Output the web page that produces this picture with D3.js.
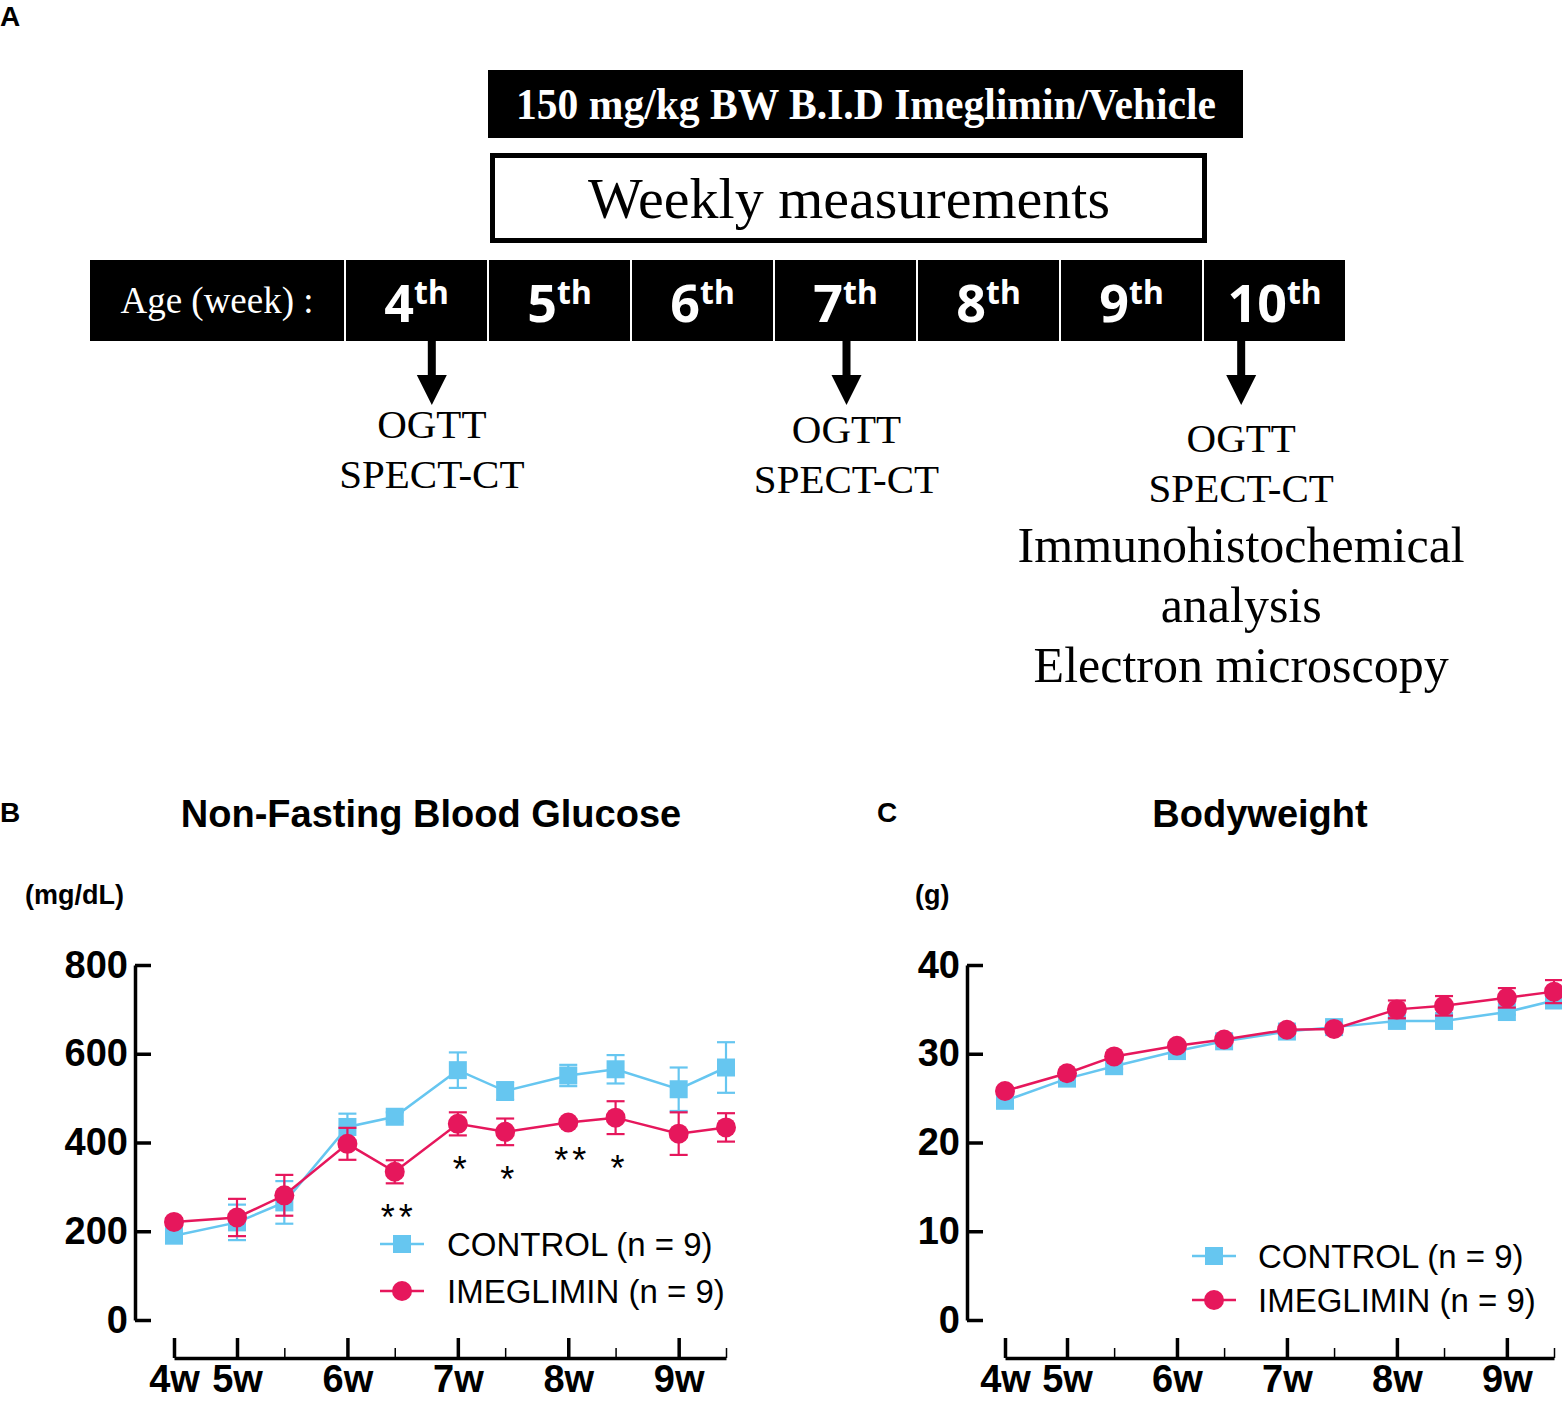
<!DOCTYPE html>
<html>
<head>
<meta charset="utf-8">
<script src="https://cdn.jsdelivr.net/npm/d3@7"></script>
<style>
  body { margin: 0; background: #fff; }
  svg { display: block; }
</style>
</head>
<body>
<svg id="fig" width="1562" height="1401"></svg>
<script>
// ---------- data ----------
// panel A: study timeline
const ageWeeks = [4, 5, 6, 7, 8, 9, 10];
const eventAges = [4.6, 7.5, 10.26];          // when the OGTT / imaging happened (week + fraction)
const eventLines = [
  ["OGTT", "SPECT-CT"],
  ["OGTT", "SPECT-CT"],
  ["OGTT", "SPECT-CT", "Immunohistochemical", "analysis", "Electron microscopy"]
];

// panels B and C: measurement days (age in days)
const days = [28, 35, 38, 42, 45, 49, 52, 56, 59, 63, 66];
const majorDays = [28, 35, 42, 49, 56, 63];
const minorDays = [38, 45, 52, 59, 66];
const weekLabels = ["4w", "5w", "6w", "7w", "8w", "9w"];

const glucoseControl    = [190, 220, 265, 435, 458, 563, 516, 551, 565, 520, 569];
const glucoseControlSem = [8, 40, 48, 30, 10, 40, 20, 24, 32, 49, 57];
const glucoseImeg       = [221, 231, 281, 397, 334, 442, 424, 445, 456, 420, 434];
const glucoseImegSem    = [8, 42, 46, 36, 26, 26, 30, 8, 37, 48, 32];
const glucoseStars      = [null, null, null, null, "**", "*", "*", "**", "*", null, null];

const bwControl    = [24.7, 27.2, 28.6, 30.3, 31.4, 32.5, 33.0, 33.7, 33.7, 34.7, 36.0];
const bwControlSem = [0.3, 0.3, 0.3, 0.3, 0.3, 0.3, 0.3, 0.3, 0.3, 0.3, 0.3];
const bwImeg       = [25.8, 27.8, 29.7, 30.9, 31.6, 32.7, 32.8, 35.0, 35.4, 36.3, 37.0];
const bwImegSem    = [0.3, 0.3, 0.3, 0.3, 0.3, 0.3, 0.3, 1.0, 1.1, 1.1, 1.3];

const seriesNames = ["CONTROL (n = 9)", "IMEGLIMIN (n = 9)"];

// ---------- setup ----------
const BLUE = "#66c6f0";
const RED = "#e6175c";
const SANS = "'Liberation Sans', Arial, sans-serif";
const SERIF = "'Liberation Serif', 'Times New Roman', serif";

const svg = d3.select("#fig");
svg.append("rect").attr("width", 1562).attr("height", 1401).attr("fill", "#fff");

// panel letters
svg.selectAll("text.panel-letter")
  .data([["A", 0, 26], ["B", 0, 822], ["C", 877, 822]])
  .join("text")
  .attr("class", "panel-letter")
  .attr("x", d => d[1]).attr("y", d => d[2])
  .attr("font-family", SANS).attr("font-weight", "bold").attr("font-size", 28)
  .text(d => d[0]);

// ---------- panel A ----------
const A = svg.append("g");

// treatment bar
A.append("rect").attr("x", 488).attr("y", 70).attr("width", 755).attr("height", 68).attr("fill", "#000");
A.append("text")
  .attr("x", 866).attr("y", 119)
  .attr("text-anchor", "middle")
  .attr("font-family", SERIF).attr("font-weight", "bold").attr("font-size", 44)
  .attr("textLength", 700).attr("lengthAdjust", "spacingAndGlyphs")
  .attr("fill", "#fff")
  .text("150 mg/kg BW B.I.D Imeglimin/Vehicle");

// weekly measurements box
A.append("rect").attr("x", 492.5).attr("y", 155.5).attr("width", 712).attr("height", 85)
  .attr("fill", "#fff").attr("stroke", "#000").attr("stroke-width", 5);
A.append("text")
  .attr("x", 849).attr("y", 218)
  .attr("text-anchor", "middle")
  .attr("font-family", SERIF).attr("font-size", 58)
  .text("Weekly measurements");

// age row
A.append("rect").attr("x", 90).attr("y", 260).attr("width", 254).attr("height", 81).attr("fill", "#000");
A.append("text")
  .attr("x", 217).attr("y", 313)
  .attr("text-anchor", "middle")
  .attr("font-family", SERIF).attr("font-size", 37).attr("fill", "#fff")
  .text("Age (week) :");

const weekBand = d3.scaleBand().domain(ageWeeks).range([346, 1347]);
const ageX = d3.scaleLinear().domain([4, 11]).range([346, 1347]);

A.selectAll("rect.week-cell")
  .data(ageWeeks)
  .join("rect")
  .attr("class", "week-cell")
  .attr("x", d => weekBand(d))
  .attr("y", 260)
  .attr("width", weekBand.bandwidth() - 2)
  .attr("height", 81)
  .attr("fill", "#000");

const weekText = A.selectAll("text.week-label")
  .data(ageWeeks)
  .join("text")
  .attr("class", "week-label")
  .attr("x", d => weekBand(d) + weekBand.bandwidth() / 2 - 1)
  .attr("y", 322)
  .attr("text-anchor", "middle")
  .attr("font-family", "'Noto Sans', sans-serif").attr("font-weight", "bold")
  .attr("fill", "#fff");
weekText.append("tspan").attr("font-size", 52).text(d => d);
weekText.append("tspan").attr("font-size", 32).attr("dy", -18).text("th");

// arrows + event text
const arrow = A.selectAll("g.event")
  .data(eventAges)
  .join("g")
  .attr("class", "event")
  .attr("transform", d => `translate(${ageX(d)},0)`);

arrow.append("rect").attr("x", -4).attr("y", 341).attr("width", 8).attr("height", 37).attr("fill", "#000");
arrow.append("path").attr("d", "M-15,375 L15,375 L0,405 Z").attr("fill", "#000");

const textTop = [438, 443, 452];
arrow.each(function(d, i) {
  const lines = eventLines[i];
  let y = textTop[i];
  lines.forEach((line, j) => {
    if (j > 0) y += j < 2 ? 50 : 60;
    d3.select(this).append("text")
      .attr("x", 0).attr("y", y)
      .attr("text-anchor", "middle")
      .attr("font-family", SERIF)
      .attr("font-size", j < 2 ? 41 : 50)
      .text(line);
  });
});

// ---------- panels B / C ----------
function drawPanel(cfg) {
  const g = svg.append("g");

  const x = d3.scaleLinear().domain([28, 35, 66]).range(cfg.xRange);
  const y = d3.scaleLinear().domain(cfg.yDomain).range([1320, 965]);

  // title + unit
  g.append("text")
    .attr("x", cfg.titleX).attr("y", 827)
    .attr("text-anchor", "middle")
    .attr("font-family", SANS).attr("font-weight", "bold").attr("font-size", 38)
    .text(cfg.title);
  g.append("text")
    .attr("x", cfg.unitX).attr("y", 904)
    .attr("font-family", SANS).attr("font-weight", "bold").attr("font-size", 27)
    .text(cfg.unit);

  // y axis (ticks point inward)
  const yAxis = g.append("g")
    .attr("transform", `translate(${cfg.yAxisX},0)`)
    .call(d3.axisLeft(y).tickValues(cfg.yTicks).tickSize(-16).tickSizeOuter(0).tickPadding(7));
  yAxis.select(".domain").attr("stroke-width", 3.5);
  yAxis.selectAll(".tick line").attr("stroke-width", 3.5);
  yAxis.selectAll(".tick text")
    .attr("font-family", SANS).attr("font-weight", "bold").attr("font-size", 38)
    .attr("fill", "#000");

  // x axis, offset below
  const xAxis = g.append("g")
    .attr("transform", "translate(0,1358)")
    .call(d3.axisBottom(x).tickValues(majorDays).tickFormat((d, i) => weekLabels[i])
      .tickSize(-20).tickSizeOuter(0).tickPadding(7));
  xAxis.select(".domain").attr("stroke-width", 3.5);
  xAxis.selectAll(".tick line").attr("stroke-width", 3.5);
  xAxis.selectAll(".tick text")
    .attr("font-family", SANS).attr("font-weight", "bold").attr("font-size", 38)
    .attr("fill", "#000");

  const xMinor = g.append("g")
    .attr("transform", "translate(0,1358)")
    .call(d3.axisBottom(x).tickValues(minorDays).tickFormat("").tickSize(-10).tickSizeOuter(0));
  xMinor.select(".domain").remove();
  xMinor.selectAll(".tick line").attr("stroke-width", 1.5);

  const series = [
    { values: cfg.control, sem: cfg.controlSem, color: BLUE, shape: "square" },
    { values: cfg.imeg, sem: cfg.imegSem, color: RED, shape: "circle" }
  ];

  const line = d3.line().x((d, i) => x(days[i])).y(d => y(d));

  series.forEach(s => {
    const sg = g.append("g");
    sg.append("path")
      .attr("d", line(s.values))
      .attr("fill", "none").attr("stroke", s.color).attr("stroke-width", 2.5);

    const err = sg.selectAll("g.err")
      .data(s.values)
      .join("g")
      .attr("stroke", s.color).attr("stroke-width", 2.2);
    err.append("line")
      .attr("x1", (d, i) => x(days[i])).attr("x2", (d, i) => x(days[i]))
      .attr("y1", (d, i) => y(d + s.sem[i])).attr("y2", (d, i) => y(d - s.sem[i]));
    err.append("line")
      .attr("x1", (d, i) => x(days[i]) - 9).attr("x2", (d, i) => x(days[i]) + 9)
      .attr("y1", (d, i) => y(d + s.sem[i])).attr("y2", (d, i) => y(d + s.sem[i]));
    err.append("line")
      .attr("x1", (d, i) => x(days[i]) - 9).attr("x2", (d, i) => x(days[i]) + 9)
      .attr("y1", (d, i) => y(d - s.sem[i])).attr("y2", (d, i) => y(d - s.sem[i]));

    if (s.shape === "square") {
      sg.selectAll("rect.pt")
        .data(s.values)
        .join("rect")
        .attr("class", "pt")
        .attr("x", (d, i) => x(days[i]) - 9).attr("y", d => y(d) - 9)
        .attr("width", 18).attr("height", 18)
        .attr("fill", s.color);
    } else {
      sg.selectAll("circle.pt")
        .data(s.values)
        .join("circle")
        .attr("class", "pt")
        .attr("cx", (d, i) => x(days[i])).attr("cy", d => y(d))
        .attr("r", 10)
        .attr("fill", s.color);
    }
  });

  // significance stars under imeglimin error bars
  if (cfg.stars) {
    const starData = cfg.stars
      .map((label, i) => ({ label, i }))
      .filter(d => d.label);
    g.selectAll("text.star")
      .data(starData)
      .join("text")
      .attr("class", "star")
      .attr("x", d => x(days[d.i]) + 4)
      .attr("y", d => y(cfg.imeg[d.i] - cfg.imegSem[d.i]) + 47)
      .attr("text-anchor", "middle")
      .attr("font-family", SANS).attr("font-size", 36)
      .attr("letter-spacing", 4)
      .text(d => d.label);
  }

  // legend
  const leg = g.selectAll("g.legend-row")
    .data(series)
    .join("g")
    .attr("transform", (d, i) => `translate(${cfg.legendX},${cfg.legendY + i * cfg.legendGap})`);
  leg.append("line")
    .attr("x1", 0).attr("x2", 44)
    .attr("stroke", d => d.color).attr("stroke-width", 2.5);
  leg.filter(d => d.shape === "square").append("rect")
    .attr("x", 13).attr("y", -9).attr("width", 18).attr("height", 18)
    .attr("fill", d => d.color);
  leg.filter(d => d.shape === "circle").append("circle")
    .attr("cx", 22).attr("r", 10)
    .attr("fill", d => d.color);
  leg.append("text")
    .attr("x", cfg.legendTextDx).attr("y", 12)
    .attr("font-family", SANS).attr("font-size", 33)
    .text((d, i) => seriesNames[i]);
}

drawPanel({
  title: "Non-Fasting Blood Glucose", titleX: 431,
  unit: "(mg/dL)", unitX: 25,
  xRange: [174, 237, 726], yAxisX: 135,
  yDomain: [0, 800], yTicks: [0, 200, 400, 600, 800],
  control: glucoseControl, controlSem: glucoseControlSem,
  imeg: glucoseImeg, imegSem: glucoseImegSem,
  stars: glucoseStars,
  legendX: 380, legendY: 1244, legendGap: 47, legendTextDx: 67
});

drawPanel({
  title: "Bodyweight", titleX: 1260,
  unit: "(g)", unitX: 915,
  xRange: [1005, 1067, 1554], yAxisX: 967,
  yDomain: [0, 40], yTicks: [0, 10, 20, 30, 40],
  control: bwControl, controlSem: bwControlSem,
  imeg: bwImeg, imegSem: bwImegSem,
  stars: null,
  legendX: 1192, legendY: 1256, legendGap: 44, legendTextDx: 66
});
</script>
</body>
</html>
